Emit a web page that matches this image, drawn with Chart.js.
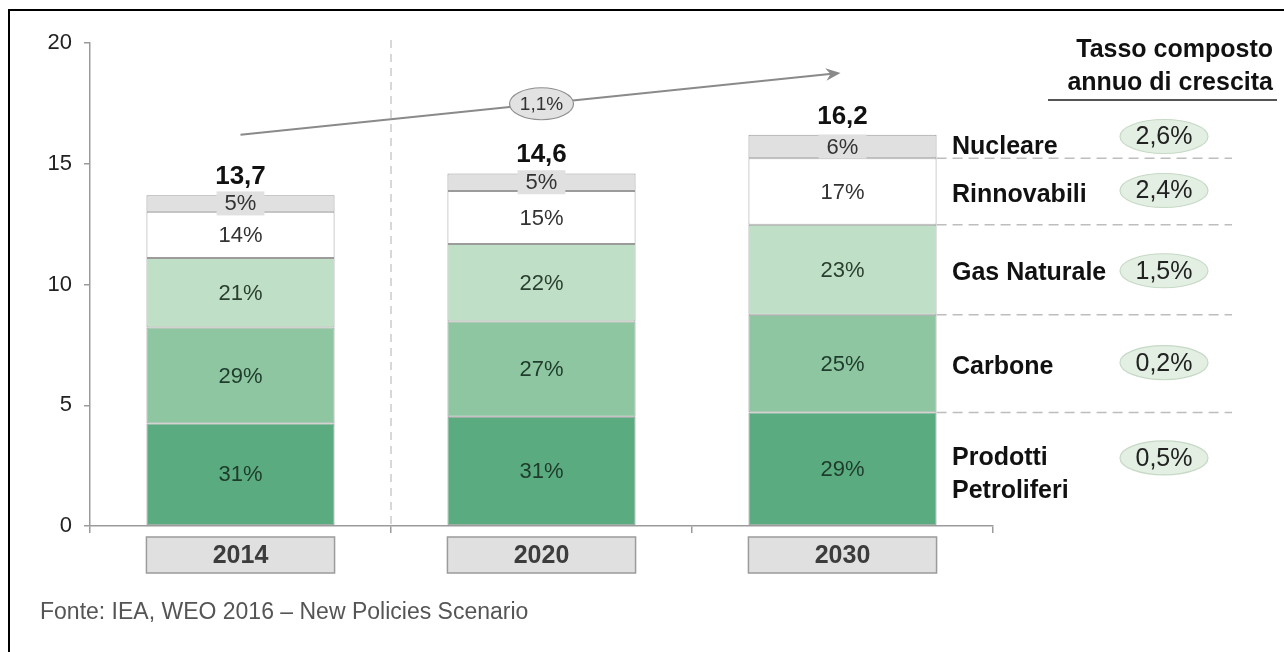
<!DOCTYPE html>
<html>
<head>
<meta charset="utf-8">
<script src="https://cdn.jsdelivr.net/npm/chart.js@4"></script>
<style>
  html, body { margin: 0; padding: 0; background: #fff; }
  #wrap { width: 1284px; height: 652px; position: relative; }
</style>
</head>
<body>
<div id="wrap"><canvas id="energyChart" width="1284" height="652"></canvas></div>
<script>
// Domanda di energia primaria per fonte (Gtep) e quote percentuali
const years = ['2014', '2020', '2030'];
const totals = [13.7, 14.6, 16.2];
const sharePetroliferi = [31, 31, 29];
const shareCarbone = [29, 27, 25];
const shareGas = [21, 22, 23];
const shareRinnovabili = [14, 15, 17];
const shareNucleare = [5, 5, 6];
const sourceNames = ['Prodotti Petroliferi', 'Carbone', 'Gas Naturale', 'Rinnovabili', 'Nucleare'];
const sourceGrowth = ['0,5%', '0,2%', '1,5%', '2,4%', '2,6%'];
const overallGrowth = '1,1%';
const yTicks = [0, 5, 10, 15, 20];

const FONT = "'Liberation Sans', Arial, sans-serif";
const fills = ['#5aab7f', '#8dc6a0', '#bfe0c6', '#ffffff', '#e0e0e0'];
const labelInk = ['#1e3b2b', '#1e3b2b', '#2a3f30', '#333333', '#333333'];

const shares = [sharePetroliferi, shareCarbone, shareGas, shareRinnovabili, shareNucleare];
const segment = (s) => totals.map((t, i) => t * s[i] / 100);
const fmt = (v) => v.toFixed(1).replace('.', ',');

const datasets = shares.map((s, k) => ({
    label: sourceNames[k],
    data: segment(s),
    backgroundColor: fills[k],
    borderColor: '#9b9b9b',
    borderWidth: 1,
    borderSkipped: false,
    barPercentage: 0.625,
    categoryPercentage: 1.0,
}));

function ellipse(ctx, cx, cy, rx, ry, fill, stroke) {
    ctx.beginPath();
    ctx.ellipse(cx, cy, rx, ry, 0, 0, Math.PI * 2);
    ctx.fillStyle = fill;
    ctx.fill();
    ctx.strokeStyle = stroke;
    ctx.lineWidth = 1.2;
    ctx.stroke();
}

const decorations = {
    id: 'decorations',
    beforeDatasetsDraw(chart) {
        const { ctx, chartArea, scales } = chart;
        const xs = scales.x;
        // divisore tratteggiato tra 2014 e 2020
        const xDiv = (xs.getPixelForValue(0) + xs.getPixelForValue(1)) / 2;
        ctx.save();
        ctx.strokeStyle = '#c4c4c4';
        ctx.lineWidth = 1.3;
        ctx.setLineDash([8, 6]);
        ctx.beginPath();
        ctx.moveTo(xDiv, chartArea.top - 3);
        ctx.lineTo(xDiv, chartArea.bottom);
        ctx.stroke();
        ctx.restore();
    },
    afterDatasetsDraw(chart) {
        const { ctx, scales } = chart;
        const xs = scales.x, ys = scales.y;
        ctx.save();

        // etichette percentuali dentro i segmenti
        ctx.textAlign = 'center';
        ctx.textBaseline = 'middle';
        ctx.font = '22px ' + FONT;
        chart.data.datasets.forEach((ds, k) => {
            const meta = chart.getDatasetMeta(k);
            meta.data.forEach((bar, i) => {
                const cy = (bar.y + bar.base) / 2;
                const txt = shares[k][i] + '%';
                if (k === 4) {
                    const w = ctx.measureText(txt).width + 16;
                    ctx.fillStyle = '#e0e0e0';
                    ctx.fillRect(bar.x - w / 2, cy - 12, w, 24);
                }
                ctx.fillStyle = labelInk[k];
                ctx.fillText(txt, bar.x, cy + 1);
            });
        });

        // totali sopra le barre
        ctx.font = 'bold 26px ' + FONT;
        ctx.fillStyle = '#111';
        ctx.textBaseline = 'alphabetic';
        const top = chart.getDatasetMeta(4).data;
        top.forEach((bar, i) => {
            ctx.fillText(fmt(totals[i]), bar.x, bar.y - 11);
        });

        // riquadri degli anni sotto l'asse
        const bars = chart.getDatasetMeta(0).data;
        bars.forEach((bar, i) => {
            const l = bar.x - bar.width / 2;
            ctx.fillStyle = '#e0e0e0';
            ctx.fillRect(l, 537, bar.width, 36);
            ctx.strokeStyle = '#9b9b9b';
            ctx.lineWidth = 1.5;
            ctx.strokeRect(l, 537, bar.width, 36);
            ctx.fillStyle = '#3c3c3c';
            ctx.font = 'bold 25px ' + FONT;
            ctx.textBaseline = 'middle';
            ctx.fillText(years[i], bar.x, 556);
        });

        // freccia di crescita complessiva
        const x0 = xs.getPixelForValue(0), y0 = ys.getPixelForValue(totals[2]);
        const x1 = xs.getPixelForValue(2) - 2, y1 = ys.getPixelForValue(18.76);
        ctx.strokeStyle = '#8a8a8a';
        ctx.fillStyle = '#8a8a8a';
        ctx.lineWidth = 2;
        ctx.beginPath();
        ctx.moveTo(x0, y0);
        ctx.lineTo(x1 - 6, y1 + 0.6);
        ctx.stroke();
        const ang = Math.atan2(y1 - y0, x1 - x0);
        ctx.beginPath();
        ctx.moveTo(x1, y1);
        ctx.lineTo(x1 - 16 * Math.cos(ang - 0.4), y1 - 16 * Math.sin(ang - 0.4));
        ctx.lineTo(x1 - 10 * Math.cos(ang), y1 - 10 * Math.sin(ang));
        ctx.lineTo(x1 - 16 * Math.cos(ang + 0.4), y1 - 16 * Math.sin(ang + 0.4));
        ctx.closePath();
        ctx.fill();
        const xm = xs.getPixelForValue(1);
        const ym = y0 + (xm - x0) / (x1 - x0) * (y1 - y0);
        ellipse(ctx, xm, ym, 32, 16, '#e2e2e2', '#8f8f8f');
        ctx.fillStyle = '#333';
        ctx.font = '19px ' + FONT;
        ctx.textBaseline = 'middle';
        ctx.fillText(overallGrowth, xm, ym + 1);

        // legenda a destra allineata ai segmenti del 2030
        const last = chart.data.datasets.map((ds, k) => chart.getDatasetMeta(k).data[2]);
        const right = last[0].x + last[0].width / 2;
        ctx.strokeStyle = '#bdbdbd';
        ctx.lineWidth = 1.5;
        ctx.setLineDash([10, 6]);
        for (let k = 0; k < 4; k++) {
            const yb = last[k].y;
            ctx.beginPath();
            ctx.moveTo(right, yb);
            ctx.lineTo(1232, yb);
            ctx.stroke();
        }
        ctx.setLineDash([]);

        const ellOffset = [-11, -1, 1, -1, -10];
        const lblOffset = [5, 3, 3, 4, 1];
        for (let k = 0; k < 5; k++) {
            const cy = (last[k].y + last[k].base) / 2;
            ctx.textAlign = 'left';
            ctx.fillStyle = '#111';
            ctx.font = 'bold 25px ' + FONT;
            if (k === 0) {
                ctx.fillText('Prodotti', 952, cy + lblOffset[k] - 16);
                ctx.fillText('Petroliferi', 952, cy + lblOffset[k] + 17);
            } else {
                ctx.fillText(sourceNames[k], 952, cy + lblOffset[k]);
            }
            const ey = cy + ellOffset[k];
            ellipse(ctx, 1164, ey, 44, 17, '#e2efe2', '#c6d9c6');
            ctx.textAlign = 'center';
            ctx.fillStyle = '#222';
            ctx.font = '25px ' + FONT;
            ctx.fillText(sourceGrowth[k], 1164, ey + 1);
        }

        // intestazione della colonna dei tassi
        ctx.textAlign = 'right';
        ctx.fillStyle = '#111';
        ctx.font = 'bold 25px ' + FONT;
        ctx.fillText('Tasso composto', 1273, 50);
        ctx.fillText('annuo di crescita', 1273, 83);
        ctx.fillStyle = '#555';
        ctx.fillRect(1048, 99, 229, 2);

        // fonte
        ctx.textAlign = 'left';
        ctx.fillStyle = '#555';
        ctx.font = '23px ' + FONT;
        ctx.fillText('Fonte: IEA, WEO 2016 \u2013 New Policies Scenario', 40, 613);

        // cornice
        ctx.fillStyle = '#000';
        ctx.fillRect(8, 9, 2, 643);
        ctx.fillRect(8, 9, 1276, 2);
        ctx.restore();
    }
};

new Chart(document.getElementById('energyChart').getContext('2d'), {
    type: 'bar',
    data: { labels: years, datasets: datasets },
    options: {
        responsive: false,
        animation: false,
        events: [],
        layout: { padding: { top: 43, right: 291, left: 0, bottom: 0 } },
        plugins: { legend: { display: false }, tooltip: { enabled: false } },
        scales: {
            x: {
                stacked: true,
                grid: { offset: true, drawOnChartArea: false, tickLength: 7, color: '#9b9b9b', lineWidth: 1.5 },
                border: { color: '#9b9b9b', width: 1.5 },
                ticks: { display: false },
                afterFit: (s) => { s.height = 126; },
            },
            y: {
                stacked: true,
                min: yTicks[0],
                max: yTicks[yTicks.length - 1],
                afterBuildTicks: (s) => { s.ticks = yTicks.map((v) => ({ value: v })); },
                grid: { drawOnChartArea: false, tickLength: 6, color: '#9b9b9b', lineWidth: 1.5 },
                border: { color: '#9b9b9b', width: 1.5 },
                ticks: { color: '#222', padding: 12, font: { size: 22, family: FONT } },
                afterFit: (s) => { s.width = 90; },
            },
        },
    },
    plugins: [decorations],
});
</script>
</body>
</html>
